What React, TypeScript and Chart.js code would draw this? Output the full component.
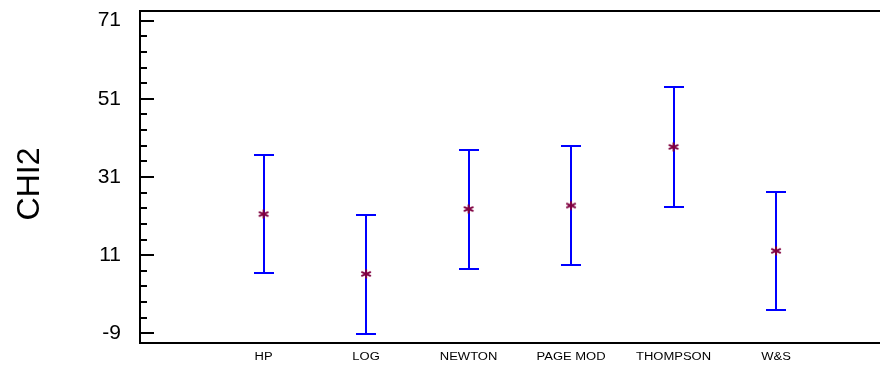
import { useEffect, useRef } from 'react';
import { Chart, registerables } from 'chart.js';

Chart.register(...registerables);

// Groups and their mean CHI2 with interval limits
const categories = ['HP', 'LOG', 'NEWTON', 'PAGE MOD', 'THOMPSON', 'W&S'];
const means = [21.5, 6.2, 22.8, 23.7, 38.7, 12.1];
const lowerLimits = [6.4, -9.1, 7.5, 8.4, 23.4, -3.0];
const upperLimits = [36.6, 21.4, 38.0, 39.0, 54.0, 27.2];

// Axis ticks
const majorTicks = [-9, 11, 31, 51, 71];
const minorTicks = [-5, -1, 3, 7, 15, 19, 23, 27, 35, 39, 43, 47, 55, 59, 63, 67];
const yTitle = 'CHI2';

const FONT = '"Liberation Sans", Arial, Helvetica, sans-serif';

// Six-armed asterisk used for the group means
function makeMarker(): HTMLCanvasElement {
  const c = document.createElement('canvas');
  c.width = 14;
  c.height = 14;
  const g = c.getContext('2d')!;
  g.strokeStyle = '#800040';
  g.lineWidth = 2;
  g.lineCap = 'butt';
  const r = 5.5;
  [90, 30, 150].forEach((deg) => {
    const a = (deg * Math.PI) / 180;
    g.beginPath();
    g.moveTo(7 - r * Math.cos(a), 7 - r * Math.sin(a) * 0.8);
    g.lineTo(7 + r * Math.cos(a), 7 + r * Math.sin(a) * 0.8);
    g.stroke();
  });
  return c;
}

const framePlugin = {
  id: 'frame',
  beforeDatasetsDraw(chart: any) {
    const { ctx, scales } = chart;
    const x = scales.x;
    const y = scales.y;
    ctx.save();
    ctx.strokeStyle = '#0000ff';
    ctx.lineWidth = 2;
    categories.forEach((_, i) => {
      const px = Math.round(x.getPixelForValue(i));
      const lo = Math.round(y.getPixelForValue(lowerLimits[i]));
      const hi = Math.round(y.getPixelForValue(upperLimits[i]));
      ctx.beginPath();
      ctx.moveTo(px, lo);
      ctx.lineTo(px, hi);
      ctx.moveTo(px - 10, lo);
      ctx.lineTo(px + 10, lo);
      ctx.moveTo(px - 10, hi);
      ctx.lineTo(px + 10, hi);
      ctx.stroke();
    });
    ctx.restore();
  },
  afterDraw(chart: any) {
    const { ctx, chartArea, scales } = chart;
    const { left, right, top, bottom } = chartArea;
    const x = scales.x;
    const y = scales.y;
    ctx.save();
    ctx.strokeStyle = '#000';
    ctx.lineWidth = 2;
    // frame
    ctx.beginPath();
    ctx.moveTo(left, top);
    ctx.lineTo(right, top);
    ctx.lineTo(right, bottom);
    ctx.lineTo(left, bottom);
    ctx.closePath();
    ctx.stroke();
    // inward ticks on both vertical sides
    ctx.beginPath();
    majorTicks.forEach((v) => {
      const py = Math.round(y.getPixelForValue(v));
      ctx.moveTo(left, py);
      ctx.lineTo(left + 14, py);
      ctx.moveTo(right, py);
      ctx.lineTo(right - 14, py);
    });
    minorTicks.forEach((v) => {
      const py = Math.round(y.getPixelForValue(v));
      ctx.moveTo(left, py);
      ctx.lineTo(left + 7, py);
      ctx.moveTo(right, py);
      ctx.lineTo(right - 7, py);
    });
    ctx.stroke();

    // category labels
    ctx.fillStyle = '#000';
    ctx.font = `10px ${FONT}`;
    ctx.textAlign = 'center';
    ctx.textBaseline = 'alphabetic';
    categories.forEach((label, i) => {
      const px = x.getPixelForValue(i);
      ctx.save();
      ctx.translate(px, bottom + 16.5);
      ctx.scale(1.3, 1);
      ctx.fillText(label, 0, 0);
      ctx.restore();
    });

    // axis title
    ctx.save();
    ctx.translate(22, 176);
    ctx.rotate(-Math.PI / 2);
    ctx.font = `32px ${FONT}`;
    ctx.textAlign = 'center';
    ctx.textBaseline = 'middle';
    ctx.fillText(yTitle, 0, 0);
    ctx.restore();

    ctx.restore();
  },
};

export default function App() {
  const canvasRef = useRef<HTMLCanvasElement | null>(null);

  useEffect(() => {
    const canvas = canvasRef.current;
    if (!canvas) return;
    const chart = new Chart(canvas, {
      type: 'scatter',
      data: {
        datasets: [
          {
            data: means.map((m, i) => ({ x: i, y: m })),
            pointStyle: makeMarker(),
            pointRadius: 7,
            showLine: false,
          },
        ],
      },
      options: {
        animation: false,
        responsive: false,
        devicePixelRatio: 1,
        layout: { autoPadding: false, padding: { left: 0, right: 9, top: 3, bottom: 0 } },
        plugins: { legend: { display: false }, tooltip: { enabled: false } },
        scales: {
          x: {
            type: 'linear',
            min: -1.206,
            max: 6.2,
            grid: { display: false, drawTicks: false },
            border: { display: false },
            ticks: { display: false },
            afterFit(scale: any) {
              scale.height = 24;
              scale.paddingLeft = 0;
              scale.paddingRight = 0;
            },
          },
          y: {
            type: 'linear',
            min: -11.48,
            max: 73.48,
            grid: { display: false, drawTicks: false },
            border: { display: false },
            ticks: {
              color: '#000',
              font: { family: FONT, size: 21 },
              padding: 19,
              autoSkip: false,
            },
            afterBuildTicks(scale: any) {
              scale.ticks = majorTicks.map((v) => ({ value: v }));
            },
            afterFit(scale: any) {
              scale.width = 132;
              scale.paddingTop = 0;
              scale.paddingBottom = 0;
            },
          },
        },
      },
      plugins: [framePlugin],
    });
    return () => chart.destroy();
  }, []);

  return (
    <div style={{ width: 880, height: 359, overflow: 'hidden', position: 'relative' }}>
      <canvas ref={canvasRef} width={900} height={359} style={{ display: 'block', width: 900, height: 359 }} />
    </div>
  );
}
